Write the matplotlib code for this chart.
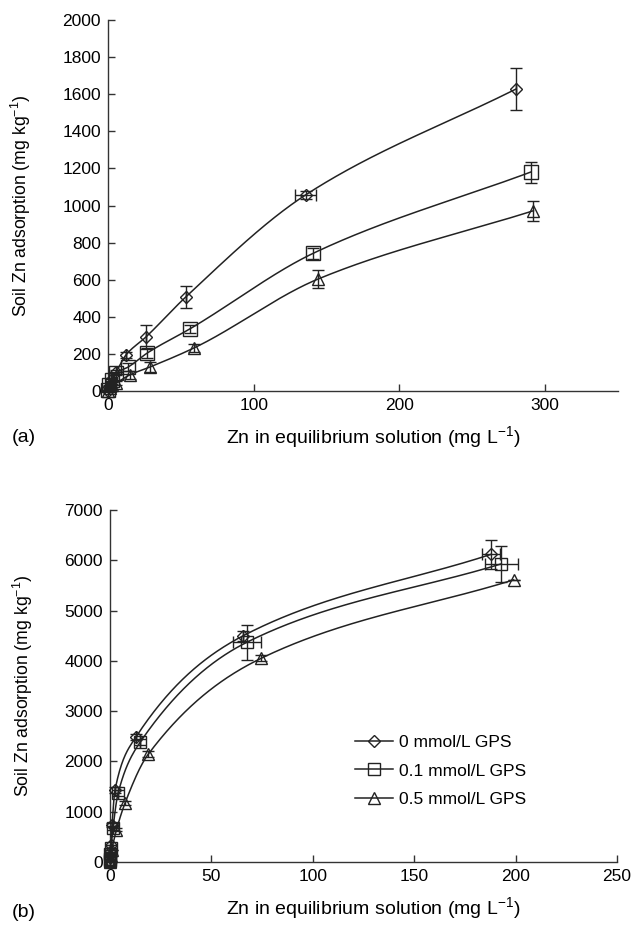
import numpy as np
import matplotlib.pyplot as plt

plt.rcParams['font.family'] = ['Liberation Sans', 'DejaVu Sans']

# (a) adsorption, low range
a_x0 = [0, 0.5, 2, 5.5, 12.3, 26, 53.4, 135.6, 280]
a_y0 = [0, 20, 59, 102, 194, 291, 507, 1057, 1628]
a_e0 = [0, 5, 8, 12, 15, 66, 61, 20, 113]
a_xe0 = [0, 0, 0, 0, 0, 0, 0, 7, 0]

a_x1 = [0, 1, 3, 5.5, 14, 27, 56, 141, 290]
a_y1 = [5, 30, 60, 95, 130, 205, 334, 743, 1180]
a_e1 = [0, 5, 8, 10, 20, 25, 20, 30, 57]

a_x2 = [0, 1.5, 3, 5.5, 15, 29, 59, 144, 292]
a_y2 = [0, 15, 30, 42, 87, 130, 232, 603, 972]
a_e2 = [0, 5, 8, 10, 20, 25, 20, 47, 54]

# (b) adsorption, high range
b_x0 = [0, 0.1, 0.2, 0.4, 1.0, 2.5, 12.7, 65.7, 188]
b_y0 = [20, 100, 200, 330, 740, 1440, 2480, 4500, 6120]
b_e0 = [0, 0, 0, 0, 40, 60, 60, 100, 290]
b_xe0 = [0, 0, 0, 0, 0, 0, 0, 0, 4.5]

b_x1 = [0, 0.1, 0.2, 0.5, 1.5, 4.0, 15.0, 67.5, 193]
b_y1 = [10, 60, 150, 280, 680, 1370, 2390, 4370, 5930]
b_e1 = [0, 0, 0, 0, 40, 60, 60, 345, 360]
b_xe1 = [0, 0, 0, 0, 0, 0, 0, 7, 8]

b_x2 = [0, 0.1, 0.3, 0.8, 3.2, 7.4, 18.8, 74.5, 199]
b_y2 = [5, 40, 120, 230, 640, 1170, 2140, 4050, 5610]
b_e2 = [0, 0, 0, 0, 30, 40, 60, 60, 0]

labels = ['0 mmol/L GPS', '0.1 mmol/L GPS', '0.5 mmol/L GPS']
xlab = 'Zn in equilibrium solution (mg L$^{\\mathregular{-1}}$)'
ylab = 'Soil Zn adsorption (mg kg$^{\\mathregular{-1}}$)'


def pchip(x, y, xs):
    # monotone cubic through the points (Fritsch-Carlson slopes)
    x = np.asarray(x, float)
    y = np.asarray(y, float)
    h = np.diff(x)
    d = np.diff(y) / h
    m = np.zeros_like(x)
    for k in range(1, len(x) - 1):
        if d[k - 1] * d[k] > 0:
            w1 = 2 * h[k] + h[k - 1]
            w2 = h[k] + 2 * h[k - 1]
            m[k] = (w1 + w2) / (w1 / d[k - 1] + w2 / d[k])
    m[0] = d[0]
    m[-1] = d[-1]
    i = np.clip(np.searchsorted(x, xs) - 1, 0, len(x) - 2)
    t = (xs - x[i]) / h[i]
    h00 = 2 * t**3 - 3 * t**2 + 1
    h10 = t**3 - 2 * t**2 + t
    h01 = -2 * t**3 + 3 * t**2
    h11 = t**3 - t**2
    return h00 * y[i] + h10 * h[i] * m[i] + h01 * y[i + 1] + h11 * h[i] * m[i + 1]


def style(ax, xmax, ymax, xstep, ystep):
    ax.set_xlim(0, xmax)
    ax.set_ylim(0, ymax)
    ax.set_xticks(np.arange(0, xmax + 1, xstep))
    ax.set_yticks(np.arange(0, ymax + 1, ystep))
    for s in ['top', 'right']:
        ax.spines[s].set_visible(False)
    for s in ['left', 'bottom']:
        ax.spines[s].set_color('#333333')
        ax.spines[s].set_linewidth(1.0)
    ax.tick_params(direction='in', length=5, width=1, color='#333333',
                   labelsize=12.5, pad=5)


def series(ax, x, y, ye, xe, mk, ms, lab=None):
    xs = np.linspace(min(x), max(x), 400)
    ax.plot(xs, pchip(x, y, xs), color='#222222', lw=1.1, zorder=2)
    ax.errorbar(x, y, yerr=ye, xerr=xe, fmt=mk, ms=ms, mfc='none', mec='#222222',
                mew=1.0, ecolor='#222222', elinewidth=1.0, capsize=4,
                clip_on=False, zorder=3)
    if lab is not None:
        ax.plot([], [], color='#222222', lw=1.1, marker=mk, ms=ms, mfc='none',
                mec='#222222', label=lab)


fig = plt.figure(figsize=(6.32, 9.38), dpi=100)
axa = fig.add_axes([108 / 632, 1 - 391 / 938, 510 / 632, 371 / 938])
axb = fig.add_axes([110 / 632, 1 - 862 / 938, 507 / 632, 352 / 938])

series(axa, a_x0, a_y0, a_e0, a_xe0, 'D', 6)
series(axa, a_x1, a_y1, a_e1, None, 's', 10)
series(axa, a_x2, a_y2, a_e2, None, '^', 9)
style(axa, 350, 2000, 100, 200)

series(axb, b_x0, b_y0, b_e0, b_xe0, 'D', 6, labels[0])
series(axb, b_x1, b_y1, b_e1, b_xe1, 's', 8, labels[1])
series(axb, b_x2, b_y2, b_e2, None, '^', 8, labels[2])
style(axb, 250, 7000, 50, 1000)

for ax in (axa, axb):
    ax.set_ylabel(ylab, fontsize=12.7)
    ax.yaxis.set_label_coords(-0.148, 0.5)
    ax.set_xlabel(xlab, fontsize=14, labelpad=8)
    ax.xaxis.label.set_x(0.52)

leg = axb.legend(loc='upper left', bbox_to_anchor=(0.47, 0.38), frameon=False,
                 fontsize=12.5, handlelength=2.2, handletextpad=0.3,
                 labelspacing=0.75, borderaxespad=0)

fig.text(12 / 632, 1 - 437 / 938, '(a)', fontsize=14, va='center')
fig.text(12 / 632, 1 - 912 / 938, '(b)', fontsize=14, va='center')

fig.savefig('out.png', dpi=100)
